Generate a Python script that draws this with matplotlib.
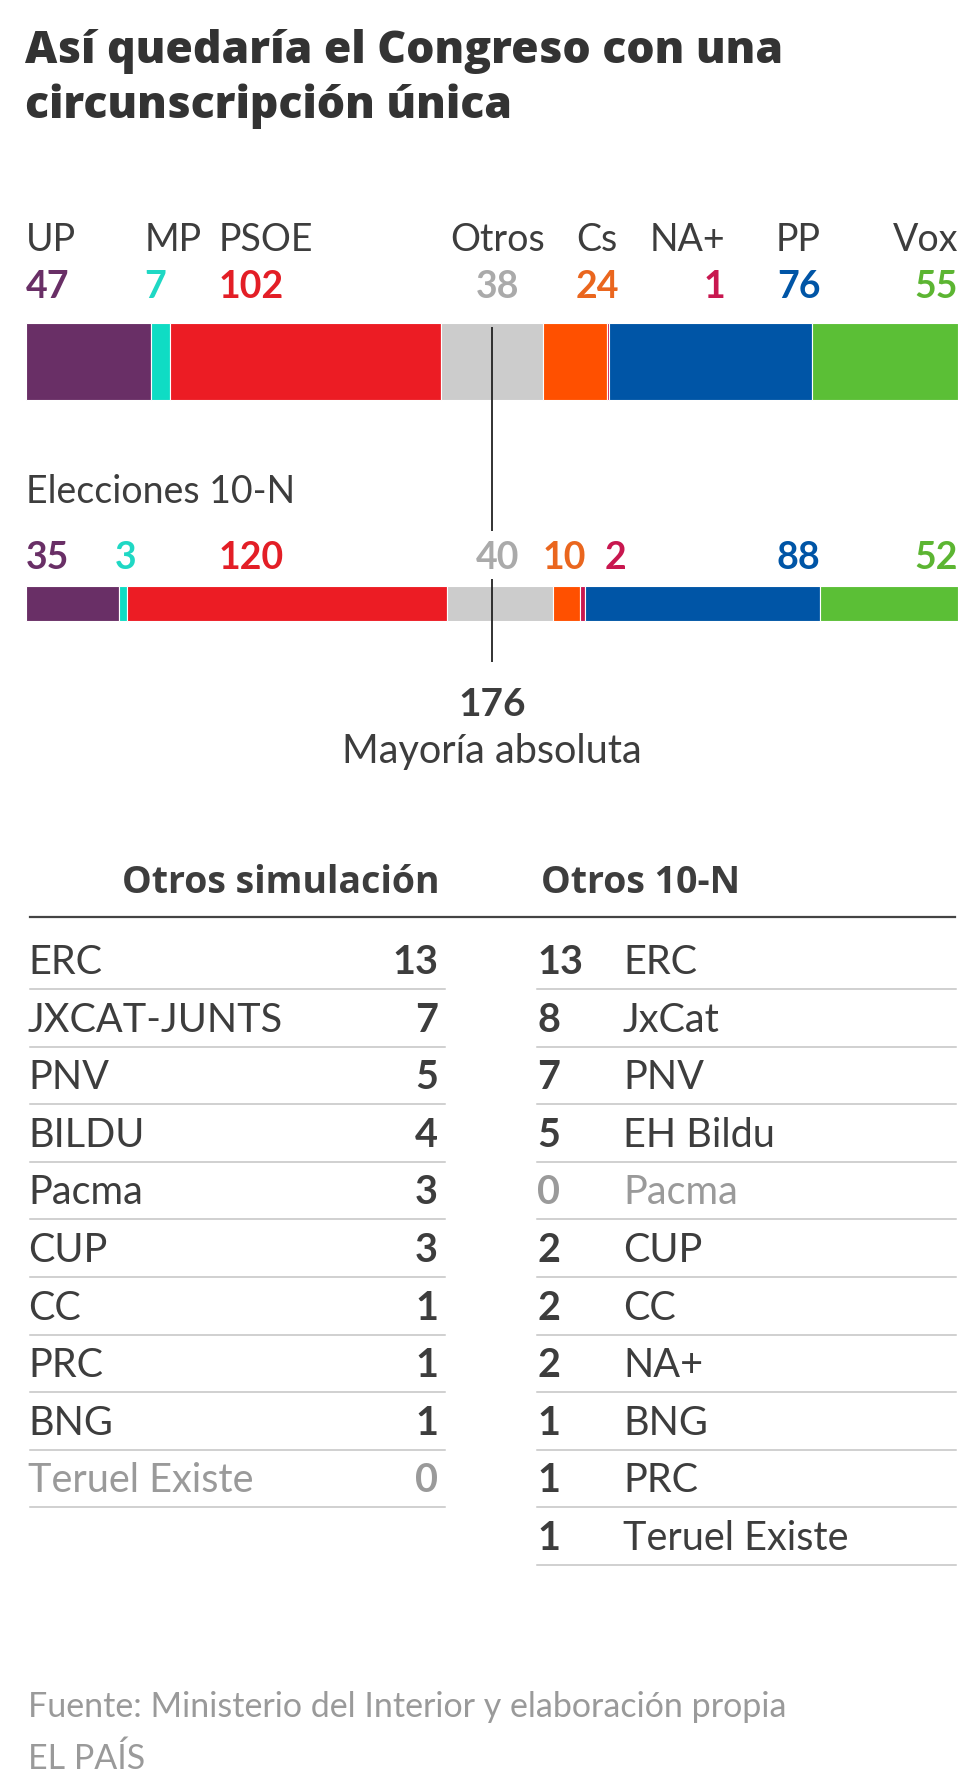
import matplotlib
matplotlib.use("Agg")
import matplotlib.pyplot as plt
import numpy as np
from matplotlib import font_manager

# ---------------- data ----------------
parties = ["UP", "MP", "PSOE", "Otros", "Cs", "NA+", "PP", "Vox"]
seats_sim = [47, 7, 102, 38, 24, 1, 76, 55]
seats_10n = [35, 3, 120, 40, 10, 2, 88, 52]
majority = 176

otros_sim_names = ["ERC", "JXCAT-JUNTS", "PNV", "BILDU", "Pacma", "CUP", "CC", "PRC", "BNG", "Teruel Existe"]
otros_sim_vals = [13, 7, 5, 4, 3, 3, 1, 1, 1, 0]
otros_10n_names = ["ERC", "JxCat", "PNV", "EH Bildu", "Pacma", "CUP", "CC", "NA+", "BNG", "PRC", "Teruel Existe"]
otros_10n_vals = [13, 8, 7, 5, 0, 2, 2, 2, 1, 1, 1]

title = "Así quedaría el Congreso con una\ncircunscripción única"
subtitle_10n = "Elecciones 10-N"
maj_label = "Mayoría absoluta"
head_left = "Otros simulación"
head_right = "Otros 10-N"
source = "Fuente: Ministerio del Interior y elaboración propia"
brand = "EL PAÍS"

# ---------------- styles ----------------
bar_colors = ["#692f66", "#0fdcc4", "#ec1c24", "#cccccc", "#ff5000", "#c8174f", "#0055a6", "#5bbf36"]
num_colors = ["#692f66", "#1fd8c4", "#e31e26", "#aaaaaa", "#ea661e", "#c8174f", "#0055a6", "#5cb532"]
# label anchors (seat units) and alignments
name_pos = [(0, "left"), (44.5, "left"), (72.5, "left"), (177, "center"), (214.5, "center"),
            (262.5, "right"), (298.3, "right"), (350, "right")]
num_pos_sim = name_pos
num_pos_10n = [(0, "left"), (37.6, "center"), (72.5, "left"), (177, "center"), (202, "center"),
               (217.3, "left"), (298.3, "right"), (350, "right")]

avail = {f.name for f in font_manager.fontManager.ttflist}
FONT = "Lato" if "Lato" in avail else "DejaVu Sans"
TFONT = "Open Sans" if "Open Sans" in avail else FONT
plt.rcParams["font.family"] = [FONT, "DejaVu Sans"]

W, H = 980, 1788
fig = plt.figure(figsize=(W / 100, H / 100), dpi=100)
fig.patch.set_facecolor("white")

# full-figure pixel axes
axp = fig.add_axes([0, 0, 1, 1])
axp.set_xlim(0, W)
axp.set_ylim(H, 0)
axp.axis("off")

DARK = "#3d3d3d"
GREY = "#9a9a9a"
LW = "normal"

# title
for i, line in enumerate(title.split("\n")):
    axp.text(25, 63 + i * 55, line, fontsize=32, fontweight="heavy", color="#333333",
             family=[TFONT, FONT, "DejaVu Sans"], ha="left", va="baseline")

# ---------------- bar section axes (x in seats, y in pixels) ----------------
x0, x1 = 26, 958
top_px, bot_px = 200, 700
axb = fig.add_axes([x0 / W, 1 - bot_px / H, (x1 - x0) / W, (bot_px - top_px) / H])
axb.set_xlim(0, sum(seats_sim))
axb.set_ylim(bot_px, top_px)
axb.axis("off")

def stacked(vals, yc, h):
    left = np.concatenate([[0], np.cumsum(vals)[:-1]])
    axb.barh([yc] * len(vals), vals, left=left, height=h, color=bar_colors,
             edgecolor="white", linewidth=0.8)

stacked(seats_sim, (323 + 400) / 2, 77)
stacked(seats_10n, (586 + 621) / 2, 35)

for p, (x, ha) in zip(parties, name_pos):
    axb.text(x, 251, p, fontsize=27, fontweight=LW, color=DARK, ha=ha, va="baseline")
for v, (x, ha), c in zip(seats_sim, num_pos_sim, num_colors):
    axb.text(x, 298, str(v), fontsize=27, fontweight="bold", color=c, ha=ha, va="baseline")

axb.text(0, 503, subtitle_10n, fontsize=27, fontweight=LW, color=DARK, ha="left", va="baseline")
for v, (x, ha), c in zip(seats_10n, num_pos_10n, num_colors):
    axb.text(x, 569, str(v), fontsize=27, fontweight="bold", color=c, ha=ha, va="baseline")

# majority line
mx = majority - 1
axb.plot([mx, mx], [327, 531], color="#222222", lw=1.3, solid_capstyle="butt")
axb.plot([mx, mx], [579, 662], color="#222222", lw=1.3, solid_capstyle="butt")
axb.text(mx, 716, str(majority), fontsize=28, fontweight="bold", color=DARK,
         ha="center", va="baseline", clip_on=False)
axb.text(mx, 763, maj_label, fontsize=28.5, fontweight=LW, color=DARK,
         ha="center", va="baseline", clip_on=False)

# ---------------- tables ----------------
hfam = [TFONT, FONT, "DejaVu Sans"]
axp.text(440, 893, head_left, fontsize=27, fontweight="bold", color=DARK, family=hfam,
         ha="right", va="baseline")
axp.text(541, 893, head_right, fontsize=27, fontweight="bold", color=DARK, family=hfam,
         ha="left", va="baseline")
axp.plot([30, 955], [917, 917], color="#444444", lw=1.6)

row0, step = 974, 57.6
for i, (n, v) in enumerate(zip(otros_sim_names, otros_sim_vals)):
    y = row0 + i * step
    c = GREY if v == 0 else DARK
    axp.text(28, y, n, fontsize=28.5, fontweight=LW, color=c, ha="left", va="baseline")
    axp.text(438, y, str(v), fontsize=28.5, fontweight="bold", color=c, ha="right", va="baseline")
    axp.plot([30, 445], [y + 15, y + 15], color="#c4c4c4", lw=1.1)

for i, (n, v) in enumerate(zip(otros_10n_names, otros_10n_vals)):
    y = row0 + i * step
    c = GREY if v == 0 else DARK
    axp.text(537, y, str(v), fontsize=28.5, fontweight="bold", color=c, ha="left", va="baseline")
    axp.text(623, y, n, fontsize=28.5, fontweight=LW, color=c, ha="left", va="baseline")
    axp.plot([537, 956], [y + 15, y + 15], color="#c4c4c4", lw=1.1)

# footer
axp.text(28, 1717, source, fontsize=24.5, fontweight=LW, color=GREY, ha="left", va="baseline")
axp.text(28, 1769, brand, fontsize=24.5, fontweight=LW, color=GREY, ha="left", va="baseline")

fig.savefig("out.png", dpi=100, facecolor="white")
